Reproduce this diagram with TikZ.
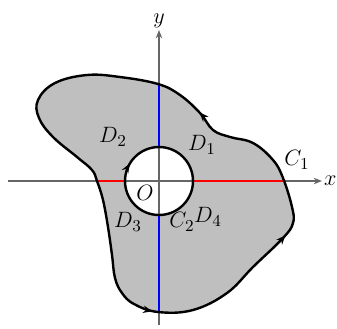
\documentclass[tikz,border=0pt]{standalone}
\usetikzlibrary{arrows.meta,decorations.markings}
\begin{document}
\begin{tikzpicture}[x=0.019cm,y=-0.019cm,
  font=\fontsize{12.5}{14}\selectfont,
  axis/.style={draw=black!60,line width=0.7pt,-{Stealth[length=4.5pt,width=3.5pt]}},
  outline/.style={draw=black,line width=1.3pt},
  redseg/.style={draw=red,line width=1.3pt},
  blueseg/.style={draw=blue,line width=1.3pt},
  lbl/.style={inner sep=1pt}]
\useasboundingbox (0,0) rectangle (337,328);
\coordinate (O) at (159,181);
% outer region
\def\outerpath{plot[smooth cycle,tension=0.65] coordinates {(158,84) (120,77) (87,75) (55,83) (38,100) (39,118) (53,137) (77,157) (92,170) (97,181) (103,200) (108,227) (112,255) (115,278) (122,293) (134,304) (158,312) (193,310) (227,293) (253,267) (283,238) (293,223) (292,207) (283,178) (273,160) (253,143) (230,137) (213,130) (200,113) (180,95)}}
\fill[lightgray] \outerpath;
\fill[white] (O) circle (34);
% axes
\coordinate (xs) at (8,181);
\coordinate (xe) at (322,181);
\coordinate (ys) at (159,325);
\coordinate (ye) at (159,30);
\path[axis] (xs) -- (xe);
\path[axis] (ys) -- (ye);
\node[lbl,anchor=west] (xl) at (xe) {$x$};
\node[lbl,anchor=south] (yl) at (ye) {$y$};
% coloured segments
\coordinate (rl1) at (97,181); \coordinate (rl2) at (125,181);
\coordinate (rr1) at (193,181); \coordinate (rr2) at (284,181);
\coordinate (bt1) at (159,85); \coordinate (bt2) at (159,147);
\coordinate (bb1) at (159,215); \coordinate (bb2) at (159,312);
\path[redseg] (rl1) -- (rl2);
\path[redseg] (rr1) -- (rr2);
\path[blueseg] (bt1) -- (bt2);
\path[blueseg] (bb1) -- (bb2);
% outlines with direction arrows
\path[outline,postaction={decorate},decoration={markings,
  mark=at position 0.451 with {\arrow{Stealth[length=5pt,width=4pt]}},
  mark=at position 0.66 with {\arrow{Stealth[length=5pt,width=4pt]}},
  mark=at position 0.884 with {\arrow{Stealth[length=5pt,width=4pt]}}}] \outerpath;
\path[outline,postaction={decorate},decoration={markings,
  mark=at position 0.585 with {\arrow{Stealth[length=5pt,width=4pt]}}}] (O) circle (34);
% labels
\node[lbl] (D1) at (202,145) {$D_1$};
\node[lbl] (D2) at (113,137) {$D_2$};
\node[lbl] (D3) at (128,222) {$D_3$};
\node[lbl] (D4) at (208,217) {$D_4$};
\node[lbl] (C1) at (297,160) {$C_1$};
\node[lbl] (C2) at (182,222) {$C_2$};
\node[lbl] (Ol) at (145,193) {$O$};
\end{tikzpicture}
\end{document}
